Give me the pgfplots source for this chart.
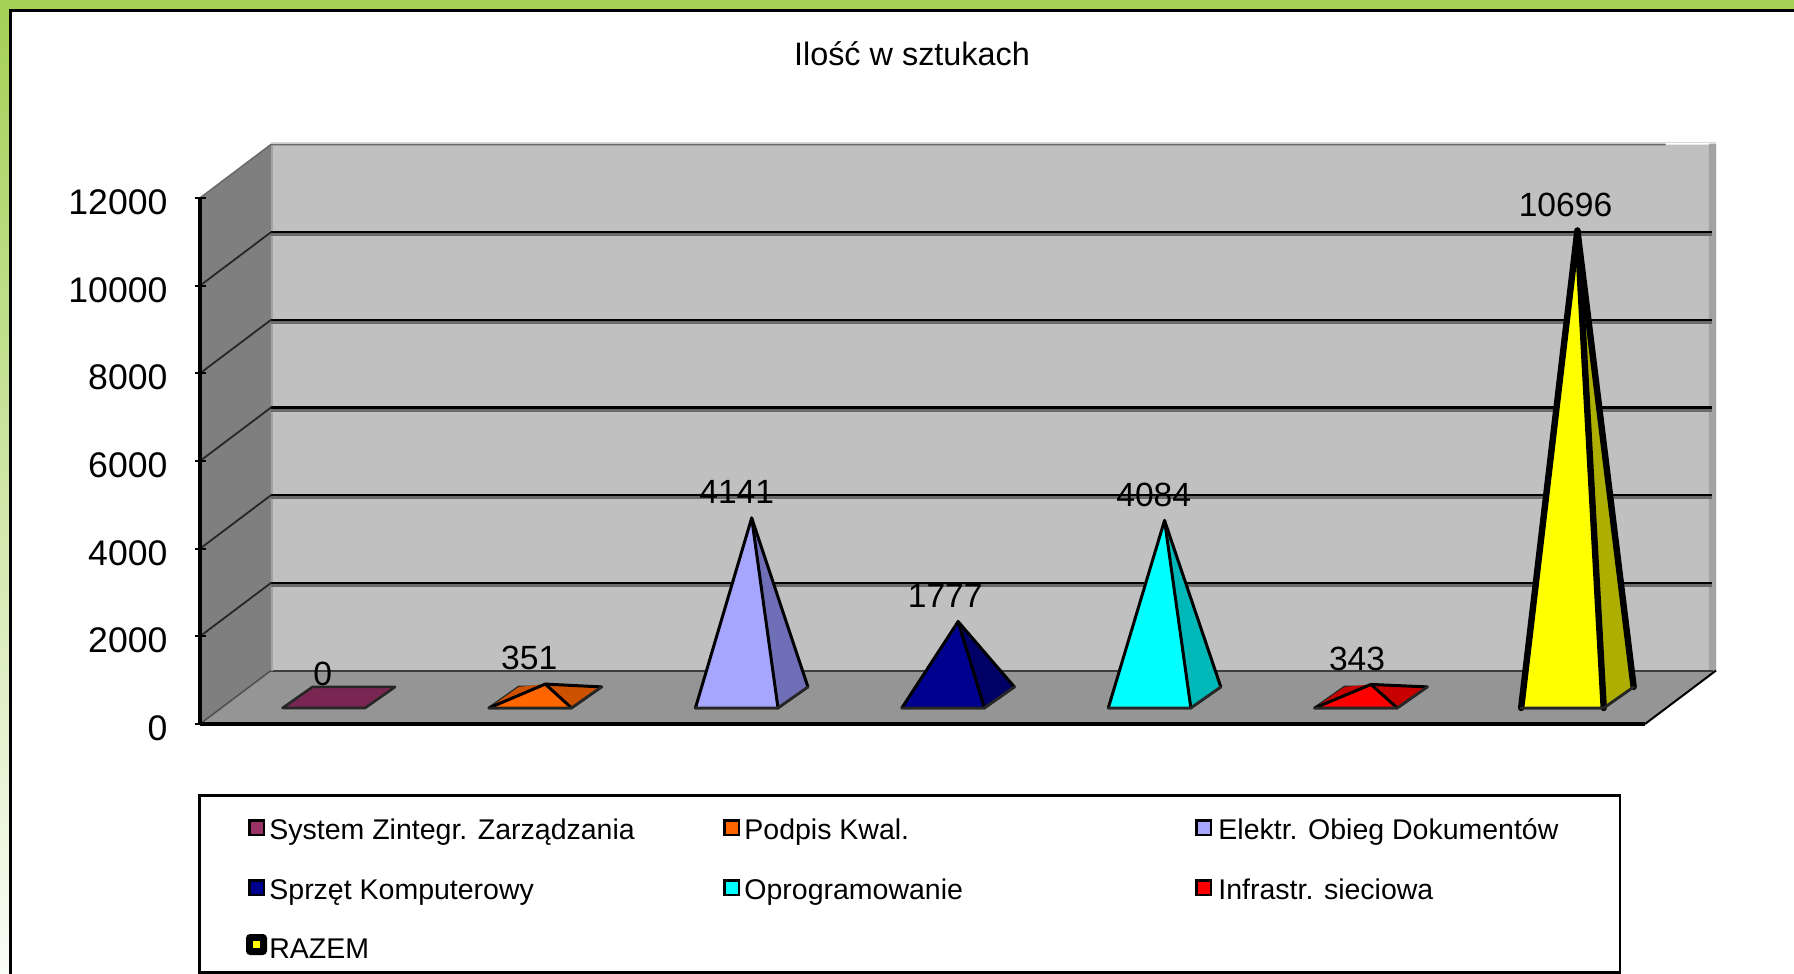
\documentclass[border=0pt]{standalone}
\usepackage{fontspec}
\setmainfont{Liberation Sans}
\usepackage{pgfplots}
\pgfplotsset{compat=1.18}
\definecolor{framegreen}{HTML}{A4D055}
\definecolor{wallback}{HTML}{C0C0C0}
\definecolor{wallside}{HTML}{7F7F7F}
\definecolor{floorc}{HTML}{959595}
\definecolor{edgec}{HTML}{A3A3A3}
\definecolor{gridsh}{HTML}{6A6A6A}
\definecolor{plumf}{HTML}{7A2652}
\definecolor{plumlg}{HTML}{993366}
\definecolor{orangef}{HTML}{FF6600}
\definecolor{oranged}{HTML}{CC5200}
\definecolor{perif}{HTML}{A6A6FF}
\definecolor{perid}{HTML}{6F6FB8}
\definecolor{navyf}{HTML}{00008F}
\definecolor{navyd}{HTML}{000066}
\definecolor{cyanf}{HTML}{00FFFF}
\definecolor{cyand}{HTML}{00B8B8}
\definecolor{redf}{HTML}{FF0000}
\definecolor{redd}{HTML}{C80000}
\definecolor{yellf}{HTML}{FFFF00}
\definecolor{yelld}{HTML}{AEAE00}
% depth of the chart box in data units
\def\dX{0.344}
\def\dY{1220}
% #1 category index, #2 value, #3 front, #4 right face, #5 left face, #6 line width
\newcommand{\pyr}[6]{%
  \pgfmathsetmacro{\xa}{#1+0.40}%
  \pgfmathsetmacro{\xb}{#1+0.80}%
  \pgfmathsetmacro{\xc}{#1+0.945}%
  \pgfmathsetmacro{\xd}{#1+0.545}%
  \pgfmathsetmacro{\xt}{#1+0.6725}%
  \pgfmathsetmacro{\yt}{#2+560}%
  \addplot[fill=#5,draw=black!85,line width=1.3pt,line join=round,line cap=round]
    coordinates {(\xa,366)(\xb,366)(\xc,846)(\xd,846)(\xa,366)};
  \ifdim #2pt>0pt
  \addplot[fill=#5,draw=none] coordinates {(\xa,366)(\xd,846)(\xt,\yt)(\xa,366)};
  \addplot[fill=#4,draw=none] coordinates {(\xb,366)(\xc,846)(\xt,\yt)(\xb,366)};
  \addplot[fill=#3,draw=none] coordinates {(\xa,366)(\xb,366)(\xt,\yt)(\xa,366)};
  \addplot[black,line width=#6,line join=round,line cap=round]
    coordinates {(\xc,846)(\xt,\yt)(\xa,366)};
  \addplot[black,line width=#6,line join=round,line cap=round]
    coordinates {(\xt,\yt)(\xb,366)};
  \addplot[black!85,line width=1.4pt,line join=round,line cap=round]
    coordinates {(\xa,366)(\xb,366)(\xc,846)};
  \fi
}
\newcommand{\gridl}[1]{%
  \pgfmathsetmacro{\yg}{#1+\dY}%
  \pgfmathsetmacro{\ygs}{#1+\dY-55}%
  \pgfmathsetmacro{\xr}{7+\dX-0.018}%
  \addplot[gridsh,line width=1.8pt] coordinates {(\dX,\ygs)(\xr,\ygs)};
  \addplot[black,line width=1.1pt] coordinates {(\dX,\yg)(\xr,\yg)};
  \addplot[black!85,line width=0.9pt] coordinates {(0,#1)(\dX,\yg)};
}
\newcommand{\lgd}[5][21]{%
  \fill[black] (#2,#3-9) rectangle ++(17,17);
  \fill[#4] (#2+2.5,#3-6.5) rectangle ++(12,12);
  \node[anchor=base west,inner sep=0pt] at (#2+#1,#3+11) {\fontsize{14.25}{17}\selectfont #5};
}
\begin{document}
\begin{tikzpicture}
  \useasboundingbox (0,0) rectangle (897pt,-487pt);
  \clip (0,0) rectangle (897pt,-487pt);
  \begin{scope}[x=0.5pt,y=-0.5pt]
  \fill[white] (0,0) rectangle (1794,974);
  \fill[framegreen] (0,0) rectangle (1794,9);
  \shade[top color=framegreen,bottom color=white!95!framegreen] (0,0) rectangle (9,974);
  \fill[black] (9,9) rectangle (1794,12);
  \fill[black] (9,9) rectangle (12,974);
  \node at (912,54) {\fontsize{16.2}{18}\selectfont Ilość w sztukach};
  \end{scope}
  \begin{axis}[
    at={(100pt,-362pt)},anchor=south west,
    scale only axis,width=722.5pt,height=263pt,
    xmin=0,xmax=7,ymin=0,ymax=12000,
    clip=false,axis on top=true,
    axis y line=left,axis x line=bottom,
    axis line style={black,line width=1.6pt,-},
    xtick=\empty,
    ytick={0,2000,4000,6000,8000,10000,12000},
    tick style={black,line width=1pt},
    major tick length=5.5pt,
    yticklabel style={font=\fontsize{17.8}{19}\selectfont,yshift=-2.2pt,xshift=-10pt},
    /pgf/number format/assume math mode=true,
    /pgf/number format/1000 sep={},
    scaled y ticks=false,
    ]
    % walls and floor
    \addplot[fill=wallback,draw=none] coordinates {(0.344,1220)(7.344,1220)(7.344,13220)(0.344,13220)(0.344,1220)};
    \addplot[fill=edgec,draw=none] coordinates {(7.31,1220)(7.344,1220)(7.344,13240)(7.31,13240)(7.31,1220)};
    \addplot[fill=wallside,draw=none] coordinates {(0,0)(0.344,1220)(0.344,13220)(0,12000)(0,0)};
    \addplot[fill=floorc,draw=none] coordinates {(0,0)(7,0)(7.344,1220)(0.344,1220)(0,0)};
    \addplot[gridsh!130,line width=1pt] coordinates {(0.344,1200)(7.33,1200)};
    \addplot[edgec,line width=1pt] coordinates {(0.35,1220)(0.35,13200)};
    \addplot[black!15,line width=0.8pt] coordinates {(0.344,13270)(7.344,13270)};
    \addplot[gridsh,line width=0.8pt] coordinates {(0,12000)(0.344,13220)(7.1,13220)};
    \addplot[black!70,line width=0.7pt] coordinates {(0,0)(0.344,1220)};
    \addplot[black,line width=1pt] coordinates {(7,0)(7.344,1220)};
    \gridl{2000}
    \gridl{4000}
    \gridl{6000}
    \gridl{8000}
    \gridl{10000}
    % pyramids: value is the height above the centre of the base
    \pyr{0}{0}{plumf}{plumf}{plumf}{1.5pt}
    \pyr{1}{351}{orangef}{oranged}{oranged}{1.5pt}
    \pyr{2}{4141}{perif}{perid}{perid}{1.5pt}
    \pyr{3}{1777}{navyf}{navyd}{navyd}{1.5pt}
    \pyr{4}{4084}{cyanf}{cyand}{cyand}{1.5pt}
    \pyr{5}{343}{redf}{redd}{redd}{1.5pt}
    \pyr{6}{10696}{yellf}{yelld}{yelld}{3.2pt}
    % data labels
    \addplot[draw=none,mark=none,point meta=explicit symbolic,
      nodes near coords,
      nodes near coords style={anchor=center,text=black,font=\fontsize{16.8}{18}\selectfont,inner sep=0pt}]
      coordinates {(0.595,1150)[0] (1.595,1501)[351] (2.6,5291)[4141] (3.61,2927)[1777]
                   (4.62,5234)[4084] (5.605,1493)[343] (6.615,11846)[10696]};
  \end{axis}
  \begin{scope}[x=0.5pt,y=-0.5pt]
  % legend
  \draw[black,line width=1.3pt] (199.5,795.5) rectangle (1620,972.5);
  \lgd{248}{828}{plumlg}{System Zintegr. Zarządzania}
  \lgd{723}{828}{orangef}{Podpis Kwal.}
  \lgd[23]{1195}{828}{perif}{Elektr. Obieg Dokumentów}
  \lgd{248}{888}{navyf}{Sprzęt Komputerowy}
  \lgd{723}{888}{cyanf}{Oprogramowanie}
  \lgd[23]{1195}{888}{redf}{Infrastr. sieciowa}
  \fill[black,rounded corners=2pt] (246,934) rectangle ++(21,21);
  \fill[yellf] (253,941) rectangle ++(7,7);
  \node[anchor=base west,inner sep=0pt] at (269,958) {\fontsize{14.25}{17}\selectfont RAZEM};
  \end{scope}
\end{tikzpicture}
\end{document}
